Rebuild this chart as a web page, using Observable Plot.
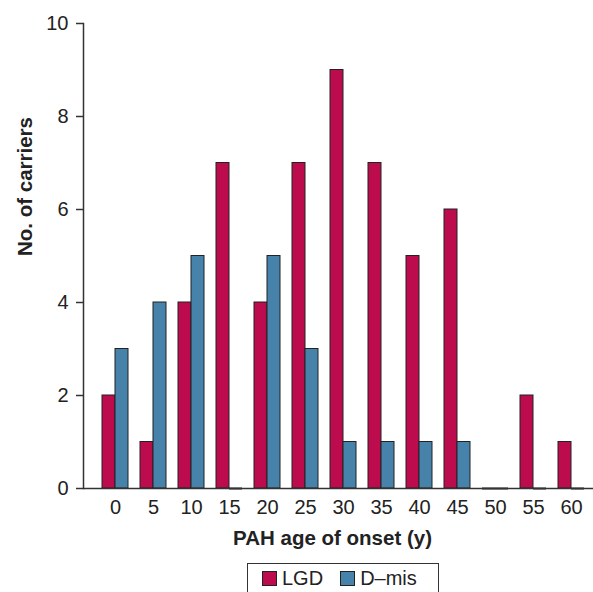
<!DOCTYPE html>
<html>
<head>
<meta charset="utf-8">
<script src="https://cdn.jsdelivr.net/npm/d3@7"></script>
<script src="https://cdn.jsdelivr.net/npm/@observablehq/plot@0.6"></script>
<style>
  html, body { margin: 0; padding: 0; background: #fff; }
  body { width: 593px; height: 592px; overflow: hidden; font-family: "Liberation Sans", Arial, sans-serif; }
  svg { display: block; }
  .legend { position: absolute; left: 247px; top: 563px; width: 192px; height: 29px; border: 1px solid #333; border-bottom: none; box-sizing: border-box; display: flex; align-items: flex-start; padding-top: 4px; font-size: 20px; line-height: 20px; color: #222; }
  .legend .item { display: flex; align-items: center; height: 20px; }
  .legend .sw { width: 13px; height: 13px; border: 1px solid #222; margin-right: 5px; }
</style>
</head>
<body>
<div id="chart"></div>
<script>
const ages = [0, 5, 10, 15, 20, 25, 30, 35, 40, 45, 50, 55, 60];
const lgd = [2, 1, 4, 7, 4, 7, 9, 7, 5, 6, 0, 2, 1];
const dmis = [3, 4, 5, 0, 5, 3, 1, 1, 1, 1, 0, 0, 0];
const seriesNames = ["LGD", "D\u2013mis"];
const seriesColors = ["#bd0c4e", "#4682a9"];
const yTicks = [0, 2, 4, 6, 8, 10];
const xTitle = "PAH age of onset (y)";
const yTitle = "No. of carriers";

const rowsL = ages.map((a, i) => ({age: a, value: lgd[i]}));
const rowsD = ages.map((a, i) => ({age: a, value: dmis[i]}));

const stroke = "#222";
const chart = Plot.plot({
  width: 593,
  height: 556,
  marginLeft: 83,
  marginRight: 0,
  marginTop: 23,
  marginBottom: 68,
  style: {fontFamily: "'Liberation Sans', Arial, sans-serif", fontSize: "20px", color: "#222", background: "#fff"},
  x: {type: "band", domain: ages, paddingInner: 0.316, paddingOuter: 0.3685, align: 0.68},
  y: {domain: [0, 10]},
  marks: [
    Plot.barY(rowsL.filter(d => d.value > 0), {x: "age", y: "value", fill: seriesColors[0], stroke, strokeWidth: 1, insetRight: 13}),
    Plot.barY(rowsD.filter(d => d.value > 0), {x: "age", y: "value", fill: seriesColors[1], stroke, strokeWidth: 1, insetLeft: 13}),
    Plot.tickY(rowsL.filter(d => d.value === 0), {x: "age", y: "value", stroke, strokeWidth: 2, insetRight: 13}),
    Plot.tickY(rowsD.filter(d => d.value === 0), {x: "age", y: "value", stroke, strokeWidth: 2, insetLeft: 13}),
    Plot.ruleY([0], {stroke: "#333", strokeWidth: 1.5}),
    Plot.frame({anchor: "left", stroke: "#333", strokeWidth: 1.5}),
    Plot.axisY({ticks: yTicks, tickSize: 7, tickPadding: 8, label: null, stroke: "#333", strokeWidth: 1.5, fontSize: 20, fill: "#222"}),
    Plot.axisX({tickSize: 0, tickPadding: 11, label: null, fontSize: 20, fill: "#222"}),
    Plot.text([xTitle], {frameAnchor: "bottom", lineAnchor: "top", dy: 42, dx: -6, fontWeight: "bold", fontSize: 20.5, fill: "#222"}),
    Plot.text([yTitle], {frameAnchor: "left", rotate: -90, dx: -58, fontWeight: "bold", fontSize: 20.5, fill: "#222"})
  ]
});
document.getElementById("chart").appendChild(chart);

const legend = document.createElement("div");
legend.className = "legend";
seriesNames.forEach((name, i) => {
  const item = document.createElement("div");
  item.className = "item";
  item.style.marginLeft = i === 0 ? "14px" : "17px";
  const sw = document.createElement("div");
  sw.className = "sw";
  sw.style.background = seriesColors[i];
  const t = document.createElement("span");
  t.textContent = name;
  item.appendChild(sw);
  item.appendChild(t);
  legend.appendChild(item);
});
document.body.appendChild(legend);
</script>
</body>
</html>
